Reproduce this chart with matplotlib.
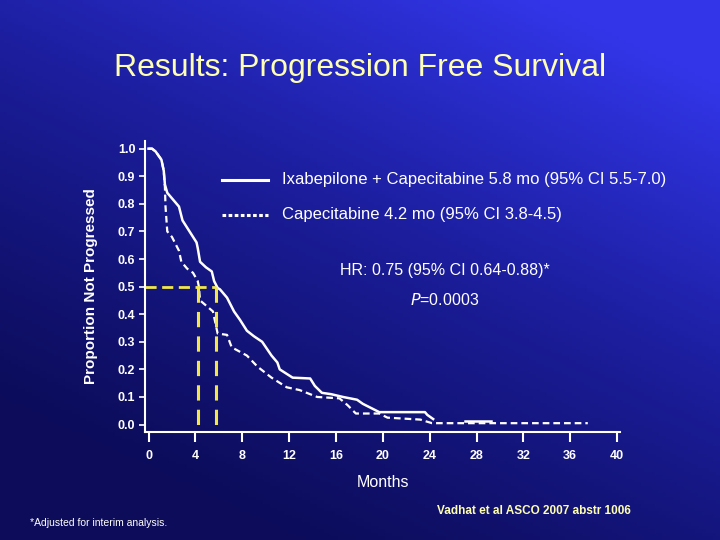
import numpy as np
import matplotlib
matplotlib.use("Agg")
import matplotlib.pyplot as plt
from matplotlib.colors import LinearSegmentedColormap

# Kaplan-Meier curves (months, proportion not progressed)
ixa_t = [0, 0.3, 0.6, 1.1, 1.3, 1.4, 1.6, 2.2, 2.6, 2.9, 3.5, 4.1, 4.2, 4.4, 4.9, 5.4,
         5.6, 5.9, 6.1, 6.7, 7.3, 7.8, 8.4, 9.0, 9.7, 10.5, 11.0, 11.2, 12.3, 13.8,
         14.2, 14.8, 15.6, 16.6, 17.8, 18.3, 19.0, 19.7, 23.6, 23.8, 24.3]
ixa_s = [1.0, 1.0, 0.99, 0.96, 0.92, 0.87, 0.84, 0.81, 0.79, 0.74, 0.70, 0.66, 0.64,
         0.59, 0.57, 0.555, 0.52, 0.495, 0.49, 0.46, 0.41, 0.38, 0.34, 0.32, 0.30,
         0.25, 0.225, 0.20, 0.17, 0.167, 0.14, 0.115, 0.11, 0.10, 0.09, 0.075, 0.06,
         0.045, 0.045, 0.035, 0.02]
ixa_tail_t = [27.0, 29.2]
ixa_tail_s = [0.012, 0.012]

cap_t = [0, 0.3, 0.6, 1.1, 1.3, 1.4, 1.45, 1.6, 2.0, 2.6, 2.8, 3.3, 3.8, 4.2, 4.3, 4.4,
         5.5, 5.6, 5.9, 6.7, 7.1, 8.4, 9.3, 10.5, 11.8, 12.9, 14.4, 16.3, 17.0, 17.7,
         19.7, 20.4, 23.2, 24.2, 37.5]
cap_s = [1.0, 1.0, 0.99, 0.96, 0.92, 0.86, 0.79, 0.70, 0.68, 0.63, 0.59, 0.565, 0.55,
         0.52, 0.50, 0.45, 0.41, 0.39, 0.33, 0.325, 0.28, 0.25, 0.21, 0.17, 0.135,
         0.125, 0.10, 0.095, 0.07, 0.04, 0.04, 0.025, 0.018, 0.005, 0.005]

medians = [4.2, 5.8]
x_ticks = [0, 4, 8, 12, 16, 20, 24, 28, 32, 36, 40]
y_ticks = [0.0, 0.1, 0.2, 0.3, 0.4, 0.5, 0.6, 0.7, 0.8, 0.9, 1.0]

WHITE = "white"
YELLOW = "#f2e64a"
TITLE_YELLOW = "#ffffb4"
NARROW = ["Liberation Sans Narrow", "Liberation Sans", "DejaVu Sans"]
SANS = ["Liberation Sans", "DejaVu Sans"]

fig = plt.figure(figsize=(7.2, 5.4), dpi=100)

# background gradient: dark navy bottom-left to bright blue top-right
bg = fig.add_axes([0, 0, 1, 1], zorder=-10)
gx, gy = np.meshgrid(np.linspace(0, 1, 200), np.linspace(0, 1, 150))
grad = np.clip(0.5 * gx + 0.8 * gy - 0.18, 0, 1) ** 1.2
cmap = LinearSegmentedColormap.from_list("slide", ["#0c0c5a", "#1c1e9e", "#3236e8"])
bg.imshow(grad, cmap=cmap, origin="lower", aspect="auto", extent=[0, 1, 0, 1])
bg.axis("off")

ax = fig.add_axes([0.2014, 0.2, 0.6597, 0.539])
ax.patch.set_alpha(0)

ax.plot(ixa_t, ixa_s, color=WHITE, lw=1.8)
ax.plot(ixa_tail_t, ixa_tail_s, color=WHITE, lw=1.8)
ax.plot(cap_t, cap_s, color=WHITE, lw=1.6, dashes=(3, 1.8))

# median lines
ax.plot([-0.3, medians[1]], [0.5, 0.5], color=YELLOW, lw=2, dashes=(4, 2))
for m in medians:
    ax.plot([m, m], [0.5, -0.027], color=YELLOW, lw=2.2, dashes=(5, 3))

ax.set_xlim(-0.3, 40.25)
ax.set_ylim(-0.027, 1.028)
for s in ["top", "right"]:
    ax.spines[s].set_visible(False)
for s in ["left", "bottom"]:
    ax.spines[s].set_color(WHITE)
    ax.spines[s].set_linewidth(1.5)

ax.set_xticks(x_ticks)
ax.set_yticks(y_ticks)
ax.set_yticklabels([f"{v:.1f}" for v in y_ticks])
ax.tick_params(axis="x", colors=WHITE, length=7, width=1.5, pad=6)
ax.tick_params(axis="y", colors=WHITE, length=4, width=1.2, pad=3)
for lab in ax.get_xticklabels() + ax.get_yticklabels():
    lab.set_family(NARROW)
    lab.set_fontweight("bold")
    lab.set_fontsize(9)

ax.set_xlabel("Months", color=WHITE, fontsize=11.5, family=SANS, labelpad=9)
ax.set_ylabel("Proportion Not Progressed", color=WHITE, fontsize=11, family=SANS,
              fontweight="bold", labelpad=14)

# legend drawn like the slide
fig.add_artist(plt.Line2D([222 / 720, 268 / 720], [1 - 180 / 540] * 2, color=WHITE, lw=2.2))
fig.add_artist(plt.Line2D([222 / 720, 268 / 720], [1 - 215 / 540] * 2, color=WHITE, lw=2.2,
                          dashes=(1.2, 0.8)))
fig.text(282 / 720, 1 - 180 / 540, "Ixabepilone + Capecitabine 5.8 mo (95% CI 5.5-7.0)",
         color=WHITE, fontsize=12, family=SANS, va="center")
fig.text(282 / 720, 1 - 215 / 540, "Capecitabine 4.2 mo (95% CI 3.8-4.5)",
         color=WHITE, fontsize=12, family=SANS, va="center")

fig.text(445 / 720, 1 - 271 / 540, "HR: 0.75 (95% CI 0.64-0.88)*", color=WHITE,
         fontsize=11.5, family=SANS, ha="center", va="center")
fig.text(445 / 720, 1 - 300 / 540, r"$P$=0.0003", color=WHITE, fontsize=11.5,
         family=SANS, ha="center", va="center")

fig.text(360 / 720, 1 - 68 / 540, "Results: Progression Free Survival", color=TITLE_YELLOW,
         fontsize=23, family=SANS, ha="center", va="center")
fig.text(534 / 720, 1 - 511 / 540, "Vadhat et al ASCO 2007 abstr 1006", color=TITLE_YELLOW,
         fontsize=8.5, family=NARROW, fontweight="bold", ha="center", va="center")
fig.text(30 / 720, 1 - 523 / 540, "*Adjusted for interim analysis.", color=WHITE,
         fontsize=7.5, family=NARROW, va="center")

plt.savefig("out.png", dpi=100)
